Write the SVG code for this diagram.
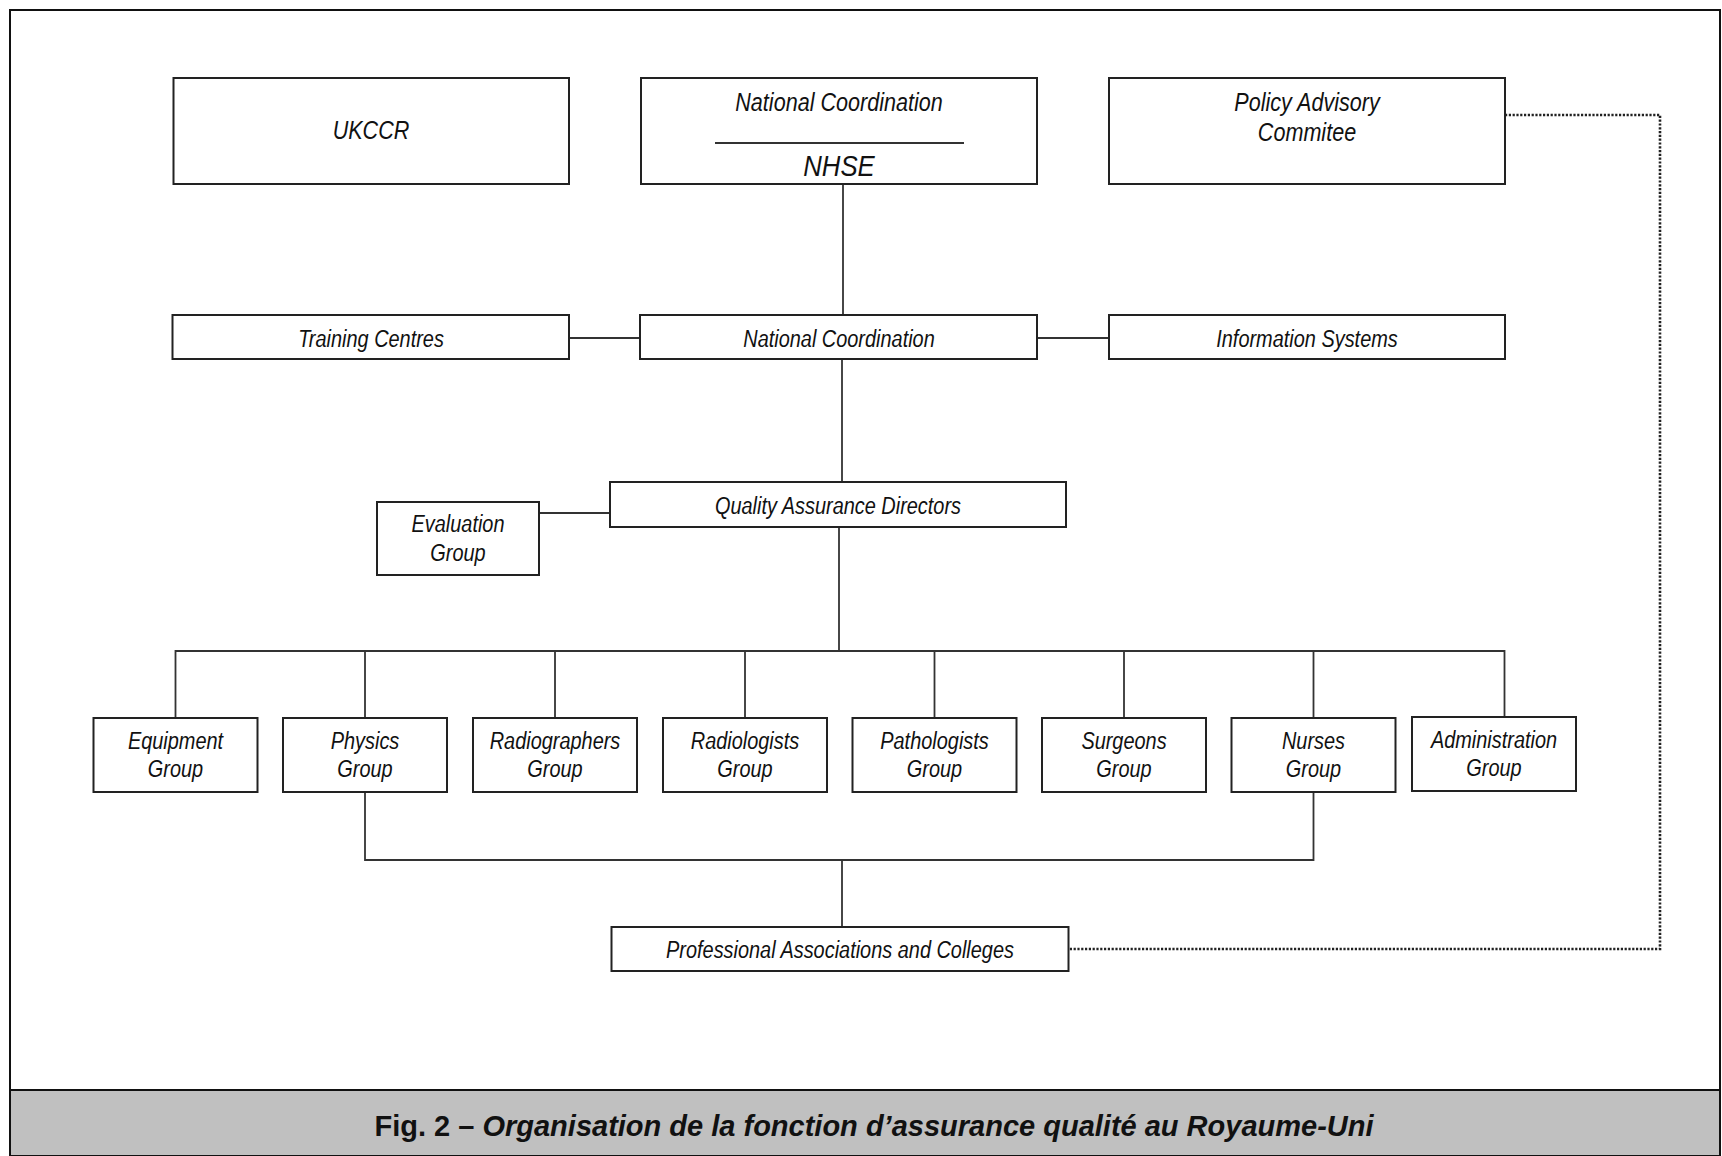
<svg xmlns="http://www.w3.org/2000/svg" width="1722" height="1156" viewBox="0 0 1722 1156">
<style>
.box{fill:#fff;stroke:#222;stroke-width:2}
.t{font-family:"Liberation Sans",Arial,sans-serif;font-style:italic;font-size:24px;fill:#111;text-anchor:middle}
.big{font-size:26px}
.line{stroke:#333;stroke-width:1.8;fill:none}
.dot{stroke:#222;stroke-width:2.6;fill:none;stroke-dasharray:2.2 1.6}
.cap{font-family:"Liberation Sans",Arial,sans-serif;font-weight:bold;font-size:29px;fill:#111;text-anchor:middle}
</style>
<rect x="0" y="0" width="1722" height="1156" fill="#fff"/>
<rect x="10" y="10" width="1710" height="1146" fill="#fff" stroke="#111" stroke-width="2"/>
<rect x="10" y="1090" width="1710" height="66" fill="#c0c0c0" stroke="#111" stroke-width="2"/>
<text class="cap" x="874" y="1136">Fig. 2 – <tspan font-style="italic">Organisation de la fonction d’assurance qualité au Royaume-Uni</tspan></text>

<g id="connectors">
<line class="line" x1="843" y1="184" x2="843" y2="315"/>
<line class="line" x1="569" y1="338" x2="640" y2="338"/>
<line class="line" x1="1037" y1="338" x2="1109" y2="338"/>
<line class="line" x1="842" y1="359" x2="842" y2="482"/>
<line class="line" x1="539" y1="513" x2="610" y2="513"/>
<line class="line" x1="839" y1="527" x2="839" y2="651"/>
<polyline class="line" points="175.5,718 175.5,651 1504.5,651 1504.5,718"/>
<line class="line" x1="365" y1="651" x2="365" y2="718"/>
<line class="line" x1="555" y1="651" x2="555" y2="718"/>
<line class="line" x1="745" y1="651" x2="745" y2="718"/>
<line class="line" x1="934.5" y1="651" x2="934.5" y2="718"/>
<line class="line" x1="1124" y1="651" x2="1124" y2="718"/>
<line class="line" x1="1313.5" y1="651" x2="1313.5" y2="718"/>
<polyline class="line" points="365,792 365,860 1313.5,860 1313.5,792"/>
<line class="line" x1="842" y1="860" x2="842" y2="927"/>
<polyline class="dot" points="1505,115 1660,115 1660,949 1069,949"/>
</g>

<g id="ukccr"><rect class="box" x="173.5" y="78" width="395.5" height="106"/><text class="t big" transform="translate(371 139) scale(0.83 1)">UKCCR</text></g>
<g id="nhse"><rect class="box" x="641" y="78" width="396" height="106"/><text class="t big" transform="translate(839 111) scale(0.83 1)">National Coordination</text><line class="line" x1="715" y1="143" x2="964" y2="143"/><text class="t" transform="translate(839 176) scale(0.86 1)" style="font-size:30px">NHSE</text></g>
<g id="policy"><rect class="box" x="1109" y="78" width="396" height="106"/><text class="t big" transform="translate(1307 111) scale(0.83 1)">Policy Advisory</text><text class="t big" transform="translate(1307 141) scale(0.83 1)">Commitee</text></g>

<g id="training"><rect class="box" x="172.5" y="315" width="396.5" height="44"/><text class="t" transform="translate(371 347) scale(0.83 1)">Training Centres</text></g>
<g id="natcoord"><rect class="box" x="640" y="315" width="397" height="44"/><text class="t" transform="translate(839 347) scale(0.83 1)">National Coordination</text></g>
<g id="infosys"><rect class="box" x="1109" y="315" width="396" height="44"/><text class="t" transform="translate(1307 347) scale(0.83 1)">Information Systems</text></g>

<g id="qad"><rect class="box" x="610" y="482" width="456" height="45"/><text class="t" transform="translate(838 514) scale(0.83 1)">Quality Assurance Directors</text></g>
<g id="evaluation"><rect class="box" x="377" y="502" width="162" height="73"/><text class="t" transform="translate(458 532) scale(0.83 1)">Evaluation</text><text class="t" transform="translate(458 561) scale(0.83 1)">Group</text></g>

<g id="equipment"><rect class="box" x="93.5" y="718" width="164" height="74"/><text class="t" transform="translate(175.5 749) scale(0.83 1)">Equipment</text><text class="t" transform="translate(175.5 777) scale(0.83 1)">Group</text></g>
<g id="physics"><rect class="box" x="283" y="718" width="164" height="74"/><text class="t" transform="translate(365 749) scale(0.83 1)">Physics</text><text class="t" transform="translate(365 777) scale(0.83 1)">Group</text></g>
<g id="radiographers"><rect class="box" x="473" y="718" width="164" height="74"/><text class="t" transform="translate(555 749) scale(0.83 1)">Radiographers</text><text class="t" transform="translate(555 777) scale(0.83 1)">Group</text></g>
<g id="radiologists"><rect class="box" x="663" y="718" width="164" height="74"/><text class="t" transform="translate(745 749) scale(0.83 1)">Radiologists</text><text class="t" transform="translate(745 777) scale(0.83 1)">Group</text></g>
<g id="pathologists"><rect class="box" x="852.5" y="718" width="164" height="74"/><text class="t" transform="translate(934.5 749) scale(0.83 1)">Pathologists</text><text class="t" transform="translate(934.5 777) scale(0.83 1)">Group</text></g>
<g id="surgeons"><rect class="box" x="1042" y="718" width="164" height="74"/><text class="t" transform="translate(1124 749) scale(0.83 1)">Surgeons</text><text class="t" transform="translate(1124 777) scale(0.83 1)">Group</text></g>
<g id="nurses"><rect class="box" x="1231.5" y="718" width="164" height="74"/><text class="t" transform="translate(1313.5 749) scale(0.83 1)">Nurses</text><text class="t" transform="translate(1313.5 777) scale(0.83 1)">Group</text></g>
<g id="administration"><rect class="box" x="1412" y="717" width="164" height="74"/><text class="t" transform="translate(1494 748) scale(0.83 1)">Administration</text><text class="t" transform="translate(1494 776) scale(0.83 1)">Group</text></g>

<g id="profassoc"><rect class="box" x="611.5" y="927" width="457" height="44"/><text class="t" transform="translate(840 958) scale(0.83 1)">Professional Associations and Colleges</text></g>
</svg>
